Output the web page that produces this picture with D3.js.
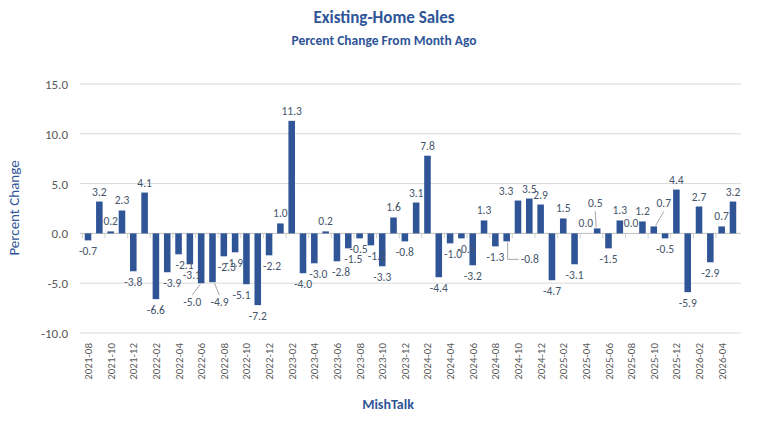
<!DOCTYPE html><html><head><meta charset="utf-8"><script src="https://cdn.jsdelivr.net/npm/d3@7"></script>
<style>body{margin:0;background:#fff;font-family:Calibri,Carlito,"Liberation Sans",Arial,sans-serif}</style></head><body><svg id="c" width="768" height="438"></svg>
<script>
const startYear=2021, startMonth=8;
const values=[-0.7,3.2,0.2,2.3,-3.8,4.1,-6.6,-3.9,-2.1,-3.1,-5.0,-4.9,-2.3,-1.9,-5.1,-7.2,-2.2,1.0,11.3,-4.0,-3.0,0.2,-2.8,-1.5,-0.5,-1.2,-3.3,1.6,-0.8,3.1,7.8,-4.4,-1.0,-0.5,-3.2,1.3,-1.3,-0.8,3.3,3.5,2.9,-4.7,1.5,-3.1,0.0,0.5,-1.5,1.3,0.0,1.2,0.7,-0.5,4.4,-5.9,2.7,-2.9,0.7,3.2];
const months=values.map((v,i)=>{const m=startMonth-1+i;return (startYear+Math.floor(m/12))+"-"+String(m%12+1).padStart(2,"0");});
const yTicks=[-10,-5,0,5,10,15];
const svg=d3.select("#c");
const L=80,R=741,T=84,B=333;
const x=d3.scaleBand().domain(months).range([L,R]).padding(0.42);
const y=d3.scaleLinear().domain([-10,15]).range([B,T]);
const blue="#2F5597";
svg.append("g").selectAll("line").data(yTicks).join("line").attr("x1",L).attr("x2",R).attr("y1",d=>y(d)).attr("y2",d=>y(d)).attr("stroke",d=>d===0?"#bfbfbf":"#d9d9d9");
svg.append("g").selectAll("text").data(yTicks).join("text").attr("x",L-12).attr("y",d=>y(d)+5).attr("text-anchor","end").attr("font-size",13).attr("fill","#595959").text(d=>d.toFixed(1));
const st=x.step();
svg.append("g").selectAll("line").data(months.filter((d,i)=>i%2===0)).join("line").attr("x1",d=>x(d)+x.bandwidth()/2-st/2).attr("x2",d=>x(d)+x.bandwidth()/2-st/2).attr("y1",y(0)).attr("y2",y(0)+5).attr("stroke","#d0d0d0");
svg.append("g").selectAll("rect").data(values).join("rect").attr("x",(d,i)=>x(months[i])).attr("width",x.bandwidth()).attr("y",d=>y(Math.max(0,d))).attr("height",d=>Math.max(Math.abs(y(d)-y(0)),d===0?0:1)).attr("fill",blue);
const nudge={7:5,8:6,9:2,12:3,13:-1,14:-5,16:3,20:4,22:4,23:5,24:-1,25:6,32:3,33:5,38:-12};
const lead={10:[-9,20],11:[7,21],37:[12,22],45:[-2,-20],50:[10,-18]};
const lg=svg.append("g");
values.forEach((d,i)=>{
  const cx=x(months[i])+x.bandwidth()/2;
  let tx=cx+(nudge[i]||0), ty=d>=0?y(d)-6:y(d)+15, anchor="middle";
  if(lead[i]){const [dx,dy]=lead[i];
    const ex=cx+dx, ey=y(d)+dy;
    if(i===37){
      lg.append("path").attr("d",`M${cx+1},${y(d)+1}L${cx+1},${ey-4}L${ex},${ey-4}`).attr("fill","none").attr("stroke","#a6a6a6");
      tx=ex+2;ty=ey;anchor="start";
    } else {
      lg.append("line").attr("x1",cx+(dx>0?2:-1)).attr("y1",d>=0?y(d)-1:y(d)+1).attr("x2",ex).attr("y2",dy>0?ey-8:ey+3).attr("stroke","#a6a6a6");
      tx=ex; ty=dy>0?ey+3:ey-1;
    }
  }
  lg.append("text").attr("x",tx).attr("y",ty).attr("text-anchor",anchor).attr("font-size",11.5).attr("fill","#44546A").text(d.toFixed(1));
});
svg.append("g").selectAll("text").data(months.filter((d,i)=>i%2===0)).join("text").attr("transform",d=>`translate(${x(d)+x.bandwidth()/2+4},${343}) rotate(-90)`).attr("text-anchor","end").attr("font-size",11).attr("fill","#595959").text(d=>d);
svg.append("text").attr("x",384).attr("y",23).attr("text-anchor","middle").attr("font-weight","bold").attr("font-size",17).attr("fill",blue).text("Existing-Home Sales");
svg.append("text").attr("x",384).attr("y",45).attr("text-anchor","middle").attr("font-weight","bold").attr("font-size",13.5).attr("fill",blue).text("Percent Change From Month Ago");
svg.append("text").attr("transform","translate(19,208) rotate(-90)").attr("text-anchor","middle").attr("font-size",15).attr("fill",blue).text("Percent Change");
svg.append("text").attr("x",388).attr("y",409).attr("text-anchor","middle").attr("font-weight","bold").attr("font-size",14).attr("fill",blue).text("MishTalk");
</script></body></html>
